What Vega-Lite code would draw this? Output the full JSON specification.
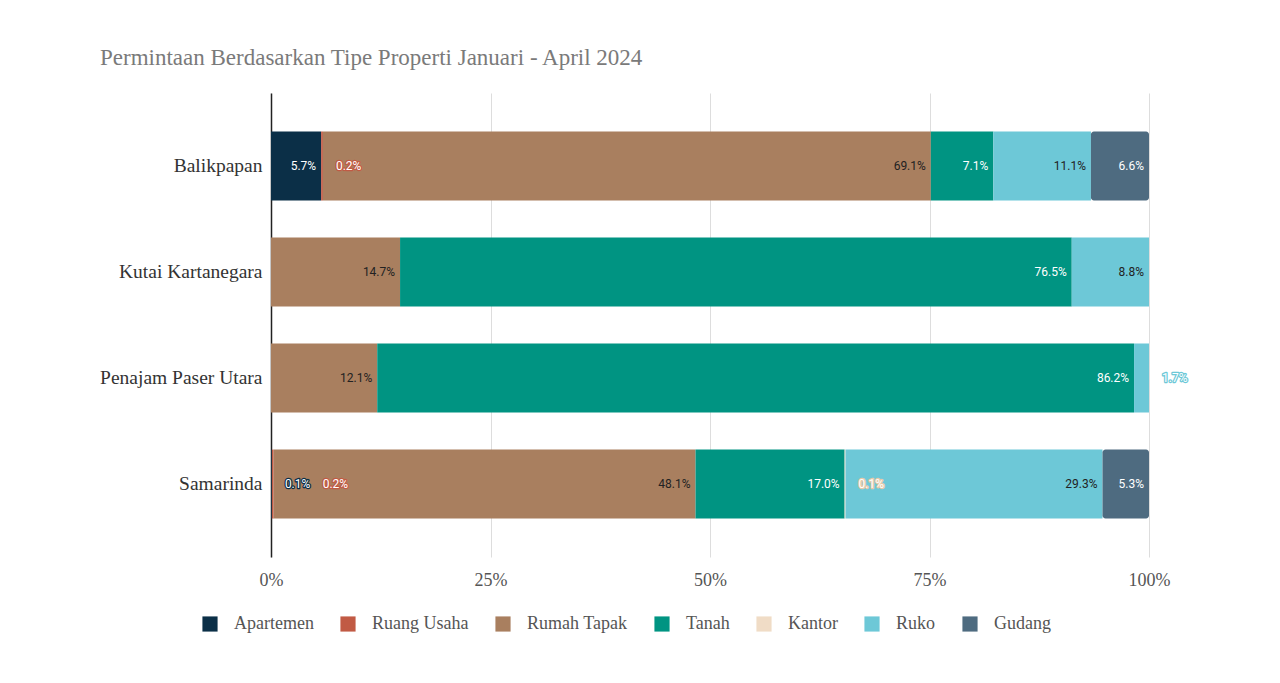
{
  "$schema": "https://vega.github.io/schema/vega-lite/v6.json",
  "width": 878,
  "height": 464,
  "autosize": "none",
  "padding": {"left": 271, "top": 93, "right": 131, "bottom": 126},
  "background": "white",
  "title": {
    "text": "Permintaan Berdasarkan Tipe Properti Januari - April 2024",
    "anchor": "start",
    "frame": "group",
    "dx": -171,
    "offset": 0,
    "baseline": "bottom",
    "font": "Liberation Serif",
    "fontSize": 23,
    "fontWeight": "normal",
    "color": "#7a7a7a"
  },
  "config": {"view": {"stroke": null}},
  "data": {
    "values": [
      {"city": "Balikpapan", "type": "Apartemen", "v": 5.7},
      {"city": "Balikpapan", "type": "Ruang Usaha", "v": 0.2},
      {"city": "Balikpapan", "type": "Rumah Tapak", "v": 69.1},
      {"city": "Balikpapan", "type": "Tanah", "v": 7.1},
      {"city": "Balikpapan", "type": "Ruko", "v": 11.1},
      {"city": "Balikpapan", "type": "Gudang", "v": 6.6},
      {"city": "Kutai Kartanegara", "type": "Rumah Tapak", "v": 14.7},
      {"city": "Kutai Kartanegara", "type": "Tanah", "v": 76.5},
      {"city": "Kutai Kartanegara", "type": "Ruko", "v": 8.8},
      {"city": "Penajam Paser Utara", "type": "Rumah Tapak", "v": 12.1},
      {"city": "Penajam Paser Utara", "type": "Tanah", "v": 86.2},
      {"city": "Penajam Paser Utara", "type": "Ruko", "v": 1.7},
      {"city": "Samarinda", "type": "Apartemen", "v": 0.1},
      {"city": "Samarinda", "type": "Ruang Usaha", "v": 0.2},
      {"city": "Samarinda", "type": "Rumah Tapak", "v": 48.1},
      {"city": "Samarinda", "type": "Tanah", "v": 17.0},
      {"city": "Samarinda", "type": "Kantor", "v": 0.1},
      {"city": "Samarinda", "type": "Ruko", "v": 29.3},
      {"city": "Samarinda", "type": "Gudang", "v": 5.3}
    ]
  },
  "transform": [
    {"calculate": "indexof(['Apartemen','Ruang Usaha','Rumah Tapak','Tanah','Kantor','Ruko','Gudang'], datum.type)", "as": "o"},
    {"stack": "v", "groupby": ["city"], "sort": [{"field": "o", "order": "ascending"}], "offset": "normalize", "as": ["v0", "v1"]},
    {"calculate": "format(datum.v, '.1f') + '%'", "as": "lbl"}
  ],
  "encoding": {
    "y": {
      "field": "city",
      "type": "nominal",
      "sort": ["Balikpapan", "Kutai Kartanegara", "Penajam Paser Utara", "Samarinda"],
      "scale": {"paddingInner": 0.35, "paddingOuter": 0.363},
      "axis": {
        "title": null,
        "ticks": false,
        "labelPadding": 9,
        "labelFont": "Liberation Serif",
        "labelFontSize": 19.5,
        "labelColor": "#333333",
        "domain": true,
        "domainColor": "#222222",
        "domainWidth": 1.5,
        "grid": false
      }
    }
  },
  "layer": [
    {
      "transform": [{"filter": "datum.type !== 'Gudang'"}],
      "mark": {"type": "bar"},
      "encoding": {
        "x": {
          "field": "v0",
          "type": "quantitative",
          "scale": {"domain": [0, 1], "nice": false},
          "axis": {
            "title": null,
            "format": "%",
            "values": [0, 0.25, 0.5, 0.75, 1],
            "grid": true,
            "gridColor": "#dddddd",
            "domain": false,
            "ticks": false,
            "labelFlush": false,
            "labelPadding": 14,
            "labelFont": "Liberation Serif",
            "labelFontSize": 18,
            "labelColor": "#555555"
          }
        },
        "x2": {"field": "v1"},
        "color": {
          "field": "type",
          "type": "nominal",
          "scale": {
            "domain": ["Apartemen", "Ruang Usaha", "Rumah Tapak", "Tanah", "Kantor", "Ruko", "Gudang"],
            "range": ["#0b2f47", "#c15a44", "#a97f5f", "#009482", "#f0dcc6", "#6dc8d7", "#4e6b80"]
          },
          "legend": {
            "title": null,
            "orient": "none",
            "direction": "horizontal",
            "legendX": -70,
            "legendY": 522,
            "symbolType": "square",
            "symbolSize": 230,
            "symbolStrokeWidth": 0,
            "labelFont": "Liberation Serif",
            "labelFontSize": 18,
            "labelColor": "#555555",
            "columnPadding": 25,
            "labelOffset": 15
          }
        }
      }
    },
    {
      "transform": [{"filter": "datum.type === 'Gudang'"}],
      "mark": {"type": "bar", "cornerRadiusEnd": 3},
      "encoding": {
        "x": {"field": "v0", "type": "quantitative"},
        "x2": {"field": "v1"},
        "color": {"field": "type", "type": "nominal"}
      }
    },
    {
      "transform": [{"filter": "datum.v >= 3"}],
      "mark": {"type": "text", "align": "right", "baseline": "middle", "dx": -5, "font": "Roboto", "fontSize": 12},
      "encoding": {
        "x": {"field": "v1", "type": "quantitative"},
        "text": {"field": "lbl"},
        "color": {
          "condition": {"test": "datum.type === 'Rumah Tapak' || datum.type === 'Ruko'", "value": "#222222"},
          "value": "#ffffff"
        }
      }
    },
    {
      "transform": [
        {"filter": "datum.v < 3"},
        {"window": [{"op": "lag", "field": "v1", "as": "prevEnd"}], "groupby": ["city"], "sort": [{"field": "o"}]},
        {"filter": "datum.prevEnd == null || datum.v1 - datum.prevEnd >= 0.04"}
      ],
      "encoding": {
        "x": {"field": "v1", "type": "quantitative"},
        "text": {"field": "lbl"}
      },
      "layer": [
        {
          "mark": {"type": "text", "align": "left", "baseline": "middle", "dx": 13, "font": "Roboto", "fontSize": 12, "strokeWidth": 2.5, "strokeJoin": "round"},
          "encoding": {
            "color": {
              "condition": [
                {"test": "datum.type === 'Apartemen'", "value": "#0b2f47"},
                {"test": "datum.type === 'Ruang Usaha'", "value": "#c15a44"},
                {"test": "datum.type === 'Kantor'", "value": "#e6c9a8"},
                {"test": "datum.type === 'Ruko'", "value": "#6dc8d7"}
              ],
              "value": "#888888"
            },
            "stroke": {
              "condition": [
                {"test": "datum.type === 'Apartemen'", "value": "#0b2f47"},
                {"test": "datum.type === 'Ruang Usaha'", "value": "#c15a44"},
                {"test": "datum.type === 'Kantor'", "value": "#e6c9a8"},
                {"test": "datum.type === 'Ruko'", "value": "#6dc8d7"}
              ],
              "value": "#888888"
            }
          }
        },
        {
          "mark": {"type": "text", "align": "left", "baseline": "middle", "dx": 13, "font": "Roboto", "fontSize": 12},
          "encoding": {"color": {"value": "#ffffff"}}
        }
      ]
    },
    {
      "transform": [
        {"filter": "datum.v < 3"},
        {"window": [{"op": "lag", "field": "v1", "as": "prevEnd"}], "groupby": ["city"], "sort": [{"field": "o"}]},
        {"filter": "datum.prevEnd != null && datum.v1 - datum.prevEnd < 0.04"}
      ],
      "encoding": {
        "x": {"field": "v1", "type": "quantitative"},
        "text": {"field": "lbl"}
      },
      "layer": [
        {
          "mark": {"type": "text", "align": "left", "baseline": "middle", "dx": 49, "font": "Roboto", "fontSize": 12, "strokeWidth": 2.5, "strokeJoin": "round"},
          "encoding": {
            "color": {
              "condition": [
                {"test": "datum.type === 'Apartemen'", "value": "#0b2f47"},
                {"test": "datum.type === 'Ruang Usaha'", "value": "#c15a44"},
                {"test": "datum.type === 'Kantor'", "value": "#e6c9a8"},
                {"test": "datum.type === 'Ruko'", "value": "#6dc8d7"}
              ],
              "value": "#888888"
            },
            "stroke": {
              "condition": [
                {"test": "datum.type === 'Apartemen'", "value": "#0b2f47"},
                {"test": "datum.type === 'Ruang Usaha'", "value": "#c15a44"},
                {"test": "datum.type === 'Kantor'", "value": "#e6c9a8"},
                {"test": "datum.type === 'Ruko'", "value": "#6dc8d7"}
              ],
              "value": "#888888"
            }
          }
        },
        {
          "mark": {"type": "text", "align": "left", "baseline": "middle", "dx": 49, "font": "Roboto", "fontSize": 12},
          "encoding": {"color": {"value": "#ffffff"}}
        }
      ]
    }
  ]
}
